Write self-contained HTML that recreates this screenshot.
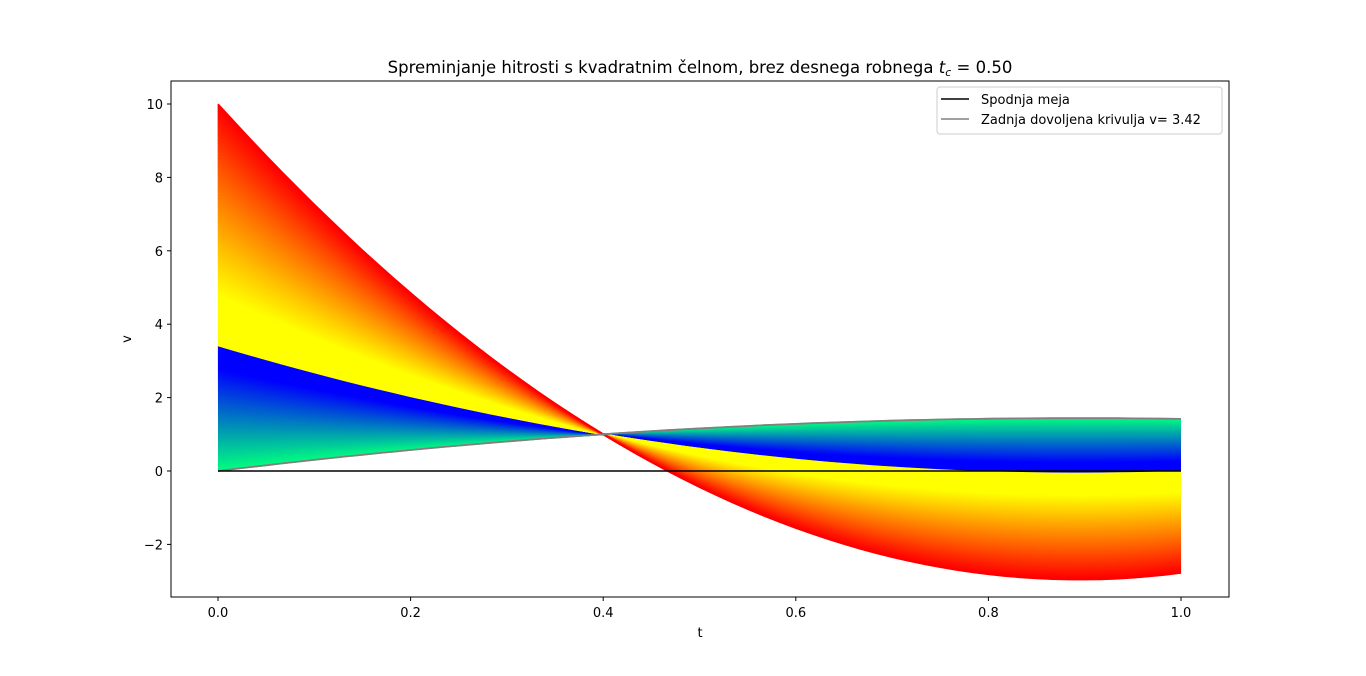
<!DOCTYPE html>
<html><head><meta charset="utf-8"><style>
body{margin:0;background:#fff;}
svg text{font-family:"DejaVu Sans","Liberation Sans",sans-serif;fill:#000;}
</style></head><body>
<svg id="chart" width="1366" height="671" viewBox="0 0 1366 671" xmlns="http://www.w3.org/2000/svg">
<rect width="1366" height="671" fill="#fff"/>
<g id="curves"></g>
<g id="overlay"></g>
<rect x="171" y="81" width="1058" height="516" fill="none" stroke="#000" stroke-width="1"/>
<g id="ticks"></g>
<text x="700" y="73" text-anchor="middle" font-size="16.5">Spreminjanje hitrosti s kvadratnim čelnom, brez desnega robnega <tspan font-style="italic">t</tspan><tspan font-style="italic" font-size="11" dy="3">c</tspan><tspan dy="-3"> = 0.50</tspan></text>
<text x="700" y="637" text-anchor="middle" font-size="13">t</text>
<text x="131" y="339" text-anchor="middle" font-size="13" transform="rotate(-90 131 339)">v</text>
<g>
<rect x="937" y="87" width="285" height="47" rx="3" fill="#fff" fill-opacity="0.8" stroke="#ccc"/>
<line x1="941" y1="99" x2="969" y2="99" stroke="#000" stroke-width="1.5"/>
<text x="981" y="104" font-size="13">Spodnja meja</text>
<line x1="941" y1="119" x2="969" y2="119" stroke="#808080" stroke-width="1.5"/>
<text x="981" y="124" font-size="13">Zadnja dovoljena krivulja v= 3.42</text>
</g>
</svg>
<script>
const xTicks=[0.0,0.2,0.4,0.6,0.8,1.0];
const yTicks=[-2,0,2,4,6,8,10];
const v0Range=[0,10];
const vLimit=[3.42];
const pivot=[0.4,1];
const endSlope=[0.42];
const yellowUntil=[4.8];
const blueFrom=[2.8];
const NS="http://www.w3.org/2000/svg";
const X=t=>218+t*963;
const Y=val=>471-val*36.7;
const clip=x=>Math.max(0,Math.min(1,x));
function vel(v0,t){
  const d=v0-pivot[1];
  const tp=pivot[0];
  const e=-endSlope[0]*d;
  const c=(e-d+d/tp)/(1-tp);
  const b=-d/tp-c*tp;
  return 1+d+b*t+c*t*t;
}
function curvePath(v0){
  let s="";
  for(let i=0;i<=60;i++){const t=i/60;s+=(i?"L":"M")+X(t).toFixed(1)+","+Y(vel(v0,t)).toFixed(1);}
  return s;
}
const g=document.getElementById("curves");
const N=160;
for(let i=0;i<=N;i++){
  const f=i/N;const v0=v0Range[0]+f*(vLimit[0]-v0Range[0]);
  const x=1-clip(v0/blueFrom[0]);
  const p=document.createElementNS(NS,"path");
  p.setAttribute("d",curvePath(v0));
  p.setAttribute("stroke",`rgb(0,${Math.round(255*x)},${Math.round(255*(1-0.5*x))})`);
  p.setAttribute("stroke-width","1.6");p.setAttribute("fill","none");
  
  
  g.appendChild(p);
}
for(let i=0;i<=N*2;i++){
  const f=i/(N*2);const v0=vLimit[0]+f*(v0Range[1]-vLimit[0]);
  const gg=clip((v0Range[1]-v0)/(v0Range[1]-yellowUntil[0]));
  const p=document.createElementNS(NS,"path");
  p.setAttribute("d",curvePath(v0));
  p.setAttribute("stroke",`rgb(255,${Math.round(255*gg)},0)`);
  p.setAttribute("stroke-width","1.6");p.setAttribute("fill","none");
  
  
  g.appendChild(p);
}
const ov=document.getElementById("overlay");
const gp=document.createElementNS(NS,"path");
gp.setAttribute("d",curvePath(v0Range[0]));gp.setAttribute("stroke","#808080");gp.setAttribute("stroke-width","1.8");gp.setAttribute("fill","none");


ov.appendChild(gp);
const bl=document.createElementNS(NS,"line");
bl.setAttribute("x1",X(0));bl.setAttribute("x2",X(1));bl.setAttribute("y1",Y(0));bl.setAttribute("y2",Y(0));
bl.setAttribute("stroke","#000");bl.setAttribute("stroke-width","1.6");


ov.appendChild(bl);
const tk=document.getElementById("ticks");
xTicks.forEach(t=>{
  const l=document.createElementNS(NS,"line");
  l.setAttribute("x1",X(t));l.setAttribute("x2",X(t));l.setAttribute("y1",597);l.setAttribute("y2",601);l.setAttribute("stroke","#000");
  
  
  tk.appendChild(l);
  const tx=document.createElementNS(NS,"text");
  tx.setAttribute("x",X(t));tx.setAttribute("y",617);tx.setAttribute("text-anchor","middle");tx.setAttribute("font-size","13");
  tx.textContent=t.toFixed(1);
  
  
  tk.appendChild(tx);
});
yTicks.forEach(yv=>{
  const l=document.createElementNS(NS,"line");
  l.setAttribute("x1",167);l.setAttribute("x2",171);l.setAttribute("y1",Y(yv));l.setAttribute("y2",Y(yv));l.setAttribute("stroke","#000");
  
  
  tk.appendChild(l);
  const tx=document.createElementNS(NS,"text");
  tx.setAttribute("x",163);tx.setAttribute("y",Y(yv)+5);tx.setAttribute("text-anchor","end");tx.setAttribute("font-size","13");
  tx.textContent=yv<0?"\u2212"+(-yv):String(yv);
  
  
  tk.appendChild(tx);
});
</script>
</body></html>
